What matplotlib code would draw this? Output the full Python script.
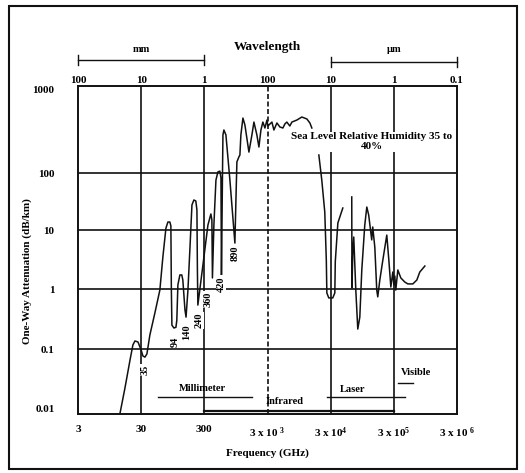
import numpy as np
import matplotlib
matplotlib.use("Agg")
import matplotlib.pyplot as plt
from matplotlib.ticker import NullLocator
import matplotlib.transforms as mtransforms

plt.rcParams['font.family'] = ['Liberation Serif', 'DejaVu Serif']
plt.rcParams['font.weight'] = 'bold'
plt.rcParams['mathtext.fontset'] = 'custom'
plt.rcParams['mathtext.rm'] = 'Liberation Serif:bold'
plt.rcParams['mathtext.it'] = 'Liberation Serif:bold'
plt.rcParams['mathtext.bf'] = 'Liberation Serif:bold'

# ---------------- data ----------------
# millimetre-wave / sub-mm absorption curve (GHz, dB/km)
mm_freq = [13.8, 16.6, 20.0, 22.2, 23.9, 26.7, 29.9, 32.0, 34.4, 37.0, 41.2, 49.5,
           59.3, 66.2, 74.0, 79.5, 85.4, 88.6, 90.2, 92.0, 99.0, 106.5, 110, 114.4,
           123, 132, 137, 148, 154, 165, 177, 191, 205, 220, 229, 233, 237,
           285, 342, 381, 395, 403, 425, 458, 492, 529, 550, 560, 580, 591, 612,
           659, 762, 914, 949, 983, 1057, 1097, 1137, 1225, 1317, 1524, 1700, 1829,
           2037, 2194, 2360, 2535, 2732, 2940, 3042, 3524, 3788, 4229, 4710, 5259,
           5650, 6070, 6770, 7300, 8740, 10480, 12600, 14060, 15100]
mm_atten = [0.010, 0.025, 0.068, 0.117, 0.136, 0.131, 0.097, 0.078, 0.075, 0.084, 0.171, 0.40,
            0.96, 3.5, 10.8, 13.8, 13.8, 11.8, 0.96, 0.25, 0.224, 0.23, 0.30, 1.17,
            1.73, 1.73, 1.42, 0.45, 0.34, 0.96, 4.6, 27.5, 33.6, 32.3, 22.4, 2.1, 0.54,
            2.55, 12.2, 19.1, 15.0, 1.54, 12.2, 75, 103, 105, 82, 1.66, 75, 274, 312,
            274, 75, 6.0, 33.6, 134, 153, 161, 274, 428, 356, 174, 274, 385,
            274, 199, 312, 385, 329, 406, 347, 385, 312, 376, 338, 329,
            366, 385, 347, 385, 406, 440, 418, 376, 329]

# infrared / visible absorption curve (GHz, dB/km); NaN marks a pen lift
ir_freq = [19500, 21700, 24200, 25600, 26100, 28000, 32400, 34900, 35500, 39000, 46700,
           np.nan,
           64700, 65200, 67100, 69600, 75000, 80600, 86800, 93300, 104000, 112000, 120000,
           134000, 139000, 150000, 161000, 167000, 180000, 201000, 232000, 250000, 269000,
           289000, 300000, 311000, 322000, 347000, 387000, 448000, 500000, 600000, 694000,
           773000, 929000]
ir_atten = [161, 75, 20.7, 3.1, 0.86, 0.71, 0.71, 0.86, 2.9, 13.3, 24.3,
            np.nan,
            38, 1.04, 3.8, 7.6, 0.96, 0.215, 0.34, 2.1, 12.2, 25.3, 18.3,
            6.8, 11.3, 5.1, 0.96, 0.74, 1.42, 3.1, 8.2, 3.1, 1.08,
            1.94, 1.17, 1.66, 0.96, 2.1, 1.54, 1.31, 1.22, 1.22, 1.42,
            1.94, 2.45]

# absorption-window labels
dip_labels = ['35', '94', '140', '240', '360', '420', '890']
dip_freq = [34.4, 104, 159, 246, 348, 550, 914]
dip_atten = [0.0475, 0.131, 0.192, 0.30, 0.68, 1.22, 4.1]

# axes ticks
x_ticks = [3, 30, 300, 3e3, 3e4, 3e5, 3e6]
x_ticklabels = ['3', '30', '300', '3 x 10 $^{3}$', '3 x 10$^{4}$', '3 x 10$^{5}$', '3 x 10 $^{6}$']
wl_ticklabels = ['100', '10', '1', '100', '10', '1', '0.1']
y_ticks = [0.01, 0.1, 1, 10, 100, 1000]
y_ticklabels = ['0.01', '0.1', '1', '10', '100', '1000']

# spectral band markers
band_names = ['Millimeter', 'Laser', 'Infrared', 'Visible']
mm_band = [55.2, 1700]
laser_band = [26100, 448000]
ir_band = [300, 3e5]
vis_band = [347000, 600000]

# ---------------- y scale as drawn (decades not equal in the original) ----------------
_L = np.array([-2., -1., 0., 1., 2., 3.])
_T = -np.array([414., 349., 289., 230., 173., 86.])


def _pw(x, xp, fp):
    x = np.asarray(x, float)
    y = np.interp(x, xp, fp)
    y = np.where(x < xp[0], fp[0] + (x - xp[0]) * (fp[1] - fp[0]) / (xp[1] - xp[0]), y)
    y = np.where(x > xp[-1], fp[-1] + (x - xp[-1]) * (fp[-1] - fp[-2]) / (xp[-1] - xp[-2]), y)
    return y


def _fwd(v):
    v = np.asarray(v, float)
    return _pw(np.log10(np.clip(v, 1e-300, None)), _L, _T)


def _inv(t):
    return 10 ** _pw(t, _T, _L)


# ---------------- figure ----------------
W, H = 525, 473
fig = plt.figure(figsize=(W / 100, H / 100), dpi=100)
ax = fig.add_axes([78 / W, 1 - 414 / H, (457 - 78) / W, (414 - 86) / H])
ax.set_xscale('log')
ax.set_yscale('function', functions=(_fwd, _inv))
ax.set_xlim(3, 3e6)
ax.set_ylim(0.01, 1000)

ink = '#111111'
for s in ax.spines.values():
    s.set_linewidth(1.4)
    s.set_color(ink)

# grid
for yv in y_ticks[1:-1]:
    ax.axhline(yv, color=ink, lw=1.2, zorder=1)
for xv in x_ticks[1:-1]:
    ax.axvline(xv, color=ink, lw=1.2, zorder=1, ls=(0, (3, 1.5)) if xv == 3e3 else '-')

# curves
ax.plot(mm_freq, mm_atten, color=ink, lw=1.1, zorder=3)
ax.plot(ir_freq, ir_atten, color=ink, lw=1.1, zorder=3)

# dip labels
for lab, f, a in zip(dip_labels, dip_freq, dip_atten):
    ax.text(f, a, lab, rotation=90, ha='center', va='center', fontsize=7.5,
            bbox=dict(facecolor='white', edgecolor='none', pad=0.6), zorder=4)

# humidity annotation
ax.text(134000, 230, 'Sea Level Relative Humidity 35 to\n40%', ha='center', va='center',
        fontsize=8, linespacing=1.1,
        bbox=dict(facecolor='white', edgecolor='none', pad=0.5), zorder=5)

# band markers
ax.plot(mm_band, [0.018, 0.018], color=ink, lw=1.0)
ax.text(275, 0.025, band_names[0], ha='center', va='center', fontsize=7.5)
ax.plot(laser_band, [0.018, 0.018], color=ink, lw=1.0)
ax.text(67100, 0.024, band_names[1], ha='center', va='center', fontsize=7.5)
ax.plot(ir_band, [0.0113, 0.0113], color=ink, lw=1.6, zorder=2)
ax.text(5650, 0.0158, band_names[2], ha='center', va='center', fontsize=7.5)
ax.plot(vis_band, [0.030, 0.030], color=ink, lw=1.0)
ax.text(vis_band[0] * 1.1, 0.043, band_names[3], ha='left', va='center', fontsize=7.5)

# ticks
ax.set_xticks(x_ticks, x_ticklabels, fontsize=8, fontweight='bold')
ax.set_yticks(y_ticks, y_ticklabels, fontsize=8, fontweight='bold')
ax.xaxis.set_minor_locator(NullLocator())
ax.yaxis.set_minor_locator(NullLocator())
ax.tick_params(axis='x', length=0, pad=8)
ax.tick_params(axis='y', length=0, pad=17)
yl = ax.get_yticklabels()
yl[0].set_verticalalignment('bottom')
yl[-1].set_verticalalignment('top')

sec = ax.secondary_xaxis('top')
sec.set_xticks(x_ticks, wl_ticklabels, fontsize=8, fontweight='bold')
sec.xaxis.set_minor_locator(NullLocator())
sec.tick_params(axis='x', length=0, pad=1)
sec.spines['top'].set_visible(False)

# wavelength brackets
tr = mtransforms.blended_transform_factory(ax.transData, ax.transAxes)
def ay(py):
    return (414 - py) / (414 - 86)

for (f0, f1), py, lab in [((3, 300), 60, 'mm'), ((3e4, 3e6), 62, 'µm')]:
    ax.plot([f0, f1], [ay(py), ay(py)], transform=tr, color=ink, lw=1.0, clip_on=False)
    for f in (f0, f1):
        ax.plot([f, f], [ay(py - 5), ay(py + 5)], transform=tr, color=ink, lw=1.0, clip_on=False)
    fc = np.sqrt(f0 * f1)
    ax.text(fc, ay(50), lab, transform=tr, ha='center', va='center', fontsize=7.5)
ax.text(3e3, ay(47), 'Wavelength', transform=tr, ha='center', va='center', fontsize=9.5)

# axis titles
fig.text(267 / W, 1 - 453 / H, 'Frequency (GHz)', ha='center', va='center', fontsize=8)
fig.text(27 / W, 1 - 271 / H, 'One-Way Attenuation (dB/km)', rotation=90,
         ha='center', va='center', fontsize=8)

# outer frame
fig.patches.append(plt.Rectangle((9 / W, 1 - 469 / H), (517 - 9) / W, (469 - 6) / H,
                                 transform=fig.transFigure, fill=False,
                                 edgecolor=ink, lw=1.5))

fig.savefig('out.png', dpi=100)
